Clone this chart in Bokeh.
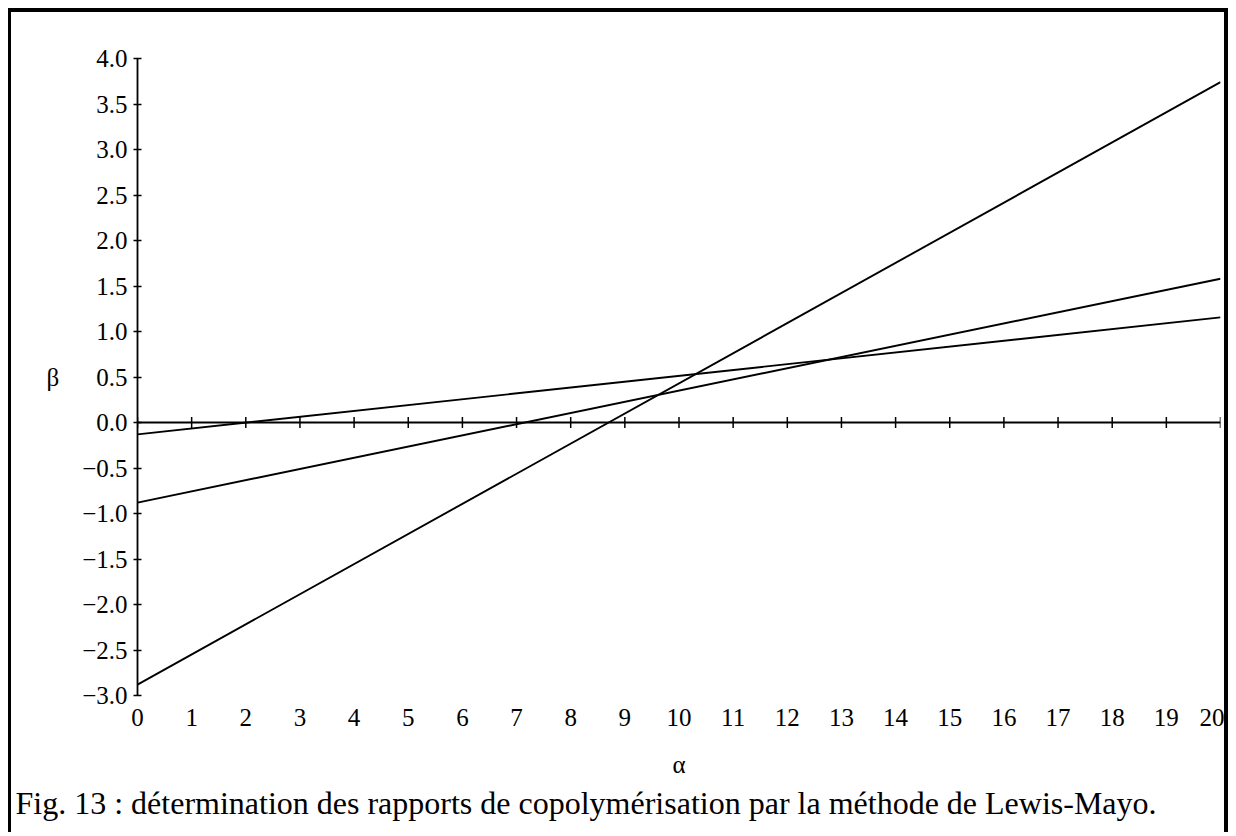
import math
from bokeh.plotting import figure
from bokeh.models import FixedTicker, Range1d, Title, Span
from bokeh.embed import file_html
from bokeh.resources import INLINE

# data
alpha = [0, 20]
beta_1 = [-2.88, 3.74]
beta_2 = [-0.88, 1.58]
beta_3 = [-0.13, 1.155]
mark_x = [16.71, 17.04]
mark_y = [4.05, 4.05]

x_ticks = list(range(0, 21))
y_ticks = [-3.0, -2.5, -2.0, -1.5, -1.0, -0.5, 0.0, 0.5, 1.0, 1.5, 2.0, 2.5, 3.0, 3.5, 4.0]
y_labels = {t: (("\u2212" if t < 0 else "") + "%.1f" % abs(t)) for t in y_ticks}
zero_level = [0.0] * len(x_ticks)

caption = "Fig. 13 : détermination des rapports de copolymérisation par la méthode de Lewis-Mayo."

SERIF = "Liberation Serif"

p = figure(width=1220, height=824, x_range=Range1d(0, 20), y_range=Range1d(-3, 4),
           output_backend="svg", toolbar_location=None,
           min_border_left=126, min_border_right=11, min_border_top=46, min_border_bottom=141)
p.styles = {"margin-left": "8px", "margin-top": "8px",
            "border-left": "3px solid black", "border-top": "4px solid black",
            "border-right": "4px solid black"}
p.outline_line_color = None
p.grid.visible = False
p.background_fill_color = "white"
p.border_fill_color = "white"

for ys in (beta_1, beta_2, beta_3):
    p.line(alpha, ys, line_color="black", line_width=1.9)
p.line(mark_x, mark_y, line_color="black", line_width=2.2)

# line at beta = 0 with its tick marks
p.add_layout(Span(location=0, dimension="width", line_color="black", line_width=2))
p.scatter(x_ticks, zero_level, marker="dash", angle=math.pi / 2, size=11,
          line_color="black", line_width=1.5)

# bottom axis: labels only
xa = p.xaxis[0]
xa.ticker = FixedTicker(ticks=x_ticks)
xa.axis_line_color = None
xa.major_tick_line_color = None
xa.minor_tick_line_color = None
xa.major_tick_out = 0
xa.major_tick_in = 0
xa.major_label_standoff = 13
xa.major_label_text_font = SERIF
xa.major_label_text_font_size = "25px"
xa.major_label_text_color = "black"
xa.axis_label = "α"
xa.axis_label_text_font = SERIF
xa.axis_label_text_font_style = "normal"
xa.axis_label_text_font_size = "25px"
xa.axis_label_text_color = "black"
xa.axis_label_standoff = 22

ya = p.yaxis[0]
ya.ticker = FixedTicker(ticks=y_ticks)
ya.major_label_overrides = y_labels
ya.major_tick_in = 4
ya.major_tick_out = 4
ya.minor_tick_line_color = None
ya.axis_line_width = 1.8
ya.major_tick_line_width = 1.5
ya.major_label_text_font = SERIF
ya.major_label_text_font_size = "25px"
ya.major_label_text_color = "black"
ya.major_label_standoff = 6
ya.axis_label = "β"
ya.axis_label_orientation = "horizontal"
ya.axis_label_text_font = SERIF
ya.axis_label_text_font_style = "normal"
ya.axis_label_text_font_size = "25px"
ya.axis_label_text_color = "black"
ya.axis_label_standoff = 20

p.add_layout(Title(text=caption, align="left", offset=-122, text_font=SERIF,
                   text_font_style="normal", text_font_size="32px",
                   text_color="black", standoff=5), "below")

open("out.html", "w").write(file_html(p, INLINE))
